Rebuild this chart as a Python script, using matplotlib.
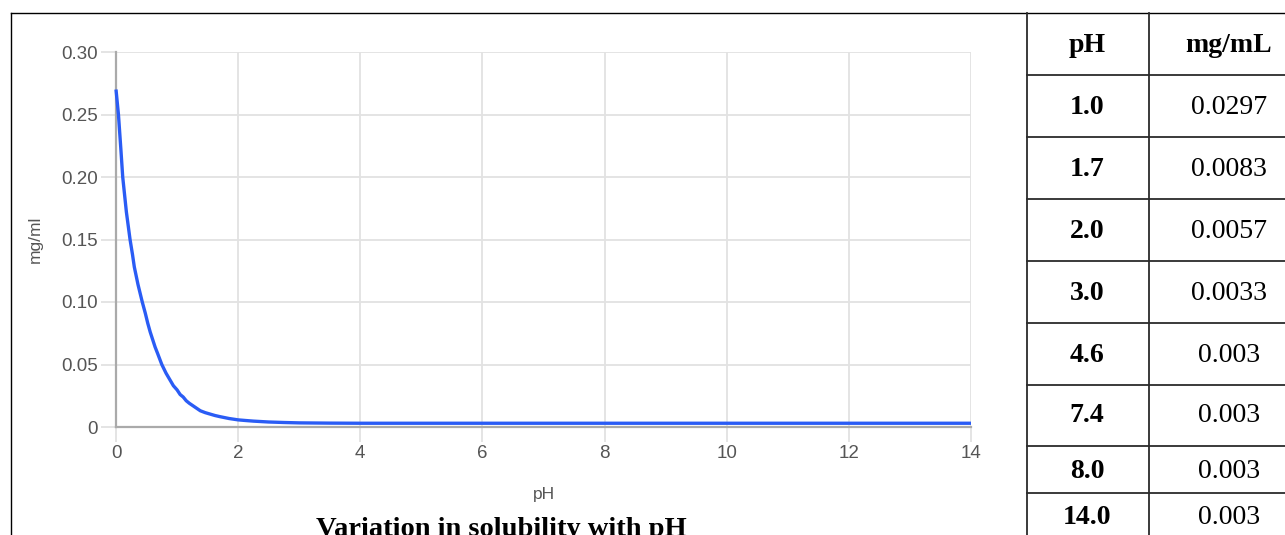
import matplotlib
matplotlib.use("Agg")
import matplotlib.pyplot as plt
from matplotlib.lines import Line2D

# ---- data ----
ph_curve = [0.0, 0.04, 0.08, 0.11, 0.14, 0.17, 0.20, 0.23, 0.27, 0.30, 0.36, 0.43, 0.48,
            0.52, 0.56, 0.60, 0.64, 0.68, 0.75, 0.82, 0.88, 0.94, 1.0, 1.05, 1.10, 1.15,
            1.20, 1.29, 1.38, 1.46, 1.55, 1.62, 1.7, 1.85, 2.0, 2.12, 2.25, 2.5, 2.75,
            3.0, 3.5, 4.0, 6.0, 8.0, 10.0, 12.0, 14.0]
sol_curve = [0.270, 0.250, 0.222, 0.200, 0.186, 0.172, 0.161, 0.150, 0.138, 0.128, 0.114,
             0.100, 0.091, 0.083, 0.076, 0.070, 0.064, 0.059, 0.050, 0.043, 0.038, 0.033,
             0.0297, 0.026, 0.024, 0.021, 0.019, 0.016, 0.013, 0.0115, 0.0102, 0.0092,
             0.0083, 0.0068, 0.0057, 0.0052, 0.0047, 0.0040, 0.0036, 0.0033, 0.0031,
             0.0030, 0.0030, 0.0030, 0.0030, 0.0030, 0.0030]
x_ticks = [0, 2, 4, 6, 8, 10, 12, 14]
y_ticks = [0, 0.05, 0.10, 0.15, 0.20, 0.25, 0.30]
y_tick_labels = ["0", "0.05", "0.10", "0.15", "0.20", "0.25", "0.30"]

table_header = ["pH", "mg/mL"]
table_ph = ["1.0", "1.7", "2.0", "3.0", "4.6", "7.4", "8.0", "14.0"]
table_sol = ["0.0297", "0.0083", "0.0057", "0.0033", "0.003", "0.003", "0.003", "0.003"]

title = "Variation in solubility with pH"
x_label = "pH"
y_label = "mg/ml"

# ---- figure ----
W, H = 1285, 535
fig = plt.figure(figsize=(W / 100, H / 100), dpi=100)
fig.patch.set_facecolor("white")

def fx(x):
    return x / W

def fy(y):
    return 1 - y / H

ax_l, ax_r, ax_t, ax_b = 116, 971, 52, 427
ax = fig.add_axes([fx(ax_l), fy(ax_b), fx(ax_r - ax_l), (ax_b - ax_t) / H])
ax.set_xlim(0, 14)
ax.set_ylim(0, 0.30)

grid_c = "#e2e2e2"
axis_c = "#aaaaaa"
text_c = "#555555"
sans = ["Liberation Sans", "DejaVu Sans"]

ax.plot(ph_curve, sol_curve, color="#2a5cf5", lw=2.4, solid_capstyle="butt",
        solid_joinstyle="round", zorder=5, clip_on=False)

ax.set_xticks(x_ticks)
ax.set_yticks(y_ticks)
ax.set_yticklabels(y_tick_labels)
ax.grid(True, color=grid_c, lw=1.3, zorder=0)
ax.set_axisbelow(True)
for s in ["top", "right"]:
    ax.spines[s].set_visible(False)
for s in ["left", "bottom"]:
    ax.spines[s].set_color(axis_c)
    ax.spines[s].set_linewidth(1.6)
    ax.spines[s].set_zorder(3)

ax.tick_params(axis="both", length=11, width=1.3, color=grid_c, labelcolor=text_c,
               labelsize=13.5, pad=2)
for lab in ax.get_xticklabels() + ax.get_yticklabels():
    lab.set_family(sans)
ax.xaxis.get_major_ticks()[0].tick1line.set_color(axis_c)
ax.yaxis.get_major_ticks()[0].tick1line.set_color(axis_c)

ax.set_xlabel(x_label, color=text_c, fontsize=12.5, family=sans)
ax.set_ylabel(y_label, color=text_c, fontsize=12.5, family=sans)
ax.xaxis.set_label_coords(0.5, (ax_b - 487) / (ax_b - ax_t))
ax.yaxis.set_label_coords((43 - ax_l) / (ax_r - ax_l), 0.5)

# title (cut off at the bottom in the reference)
fig.text(fx(501), fy(517), title, ha="center", va="top",
         family=["Liberation Serif", "DejaVu Serif"], fontweight="bold", fontsize=20.5)

# chart frame
frame_c = "#000000"
fig.add_artist(Line2D([fx(11), fx(11)], [fy(13), fy(540)], color=frame_c, lw=1.0,
                      transform=fig.transFigure))
fig.add_artist(Line2D([fx(11), fx(1290)], [fy(13), fy(13)], color=frame_c, lw=1.0,
                      transform=fig.transFigure))

# table
tab_c = "#2b2b2b"
col_x = [1027, 1149, 1311]
row_y = [13, 75, 137, 199, 261, 323, 385, 446, 493, 540]
for x in col_x:
    fig.add_artist(Line2D([fx(x), fx(x)], [fy(row_y[0]), fy(row_y[-1])], color=tab_c,
                          lw=1.3, transform=fig.transFigure))
for y in row_y[1:-1]:
    fig.add_artist(Line2D([fx(col_x[0]), fx(col_x[-1])], [fy(y), fy(y)], color=tab_c,
                          lw=1.3, transform=fig.transFigure))

serif = ["Liberation Serif", "DejaVu Serif"]
c1 = (col_x[0] + col_x[1]) / 2 - 1
c2 = 1229
fs = 20
fig.text(fx(c1), fy(45), table_header[0], ha="center", va="center", family=serif,
         fontweight="bold", fontsize=fs)
fig.text(fx(c2), fy(45), table_header[1], ha="center", va="center", family=serif,
         fontweight="bold", fontsize=fs)
row_centers = [107, 169, 231, 293, 355, 416, 471, 518]
for yc, p, s in zip(row_centers, table_ph, table_sol):
    fig.text(fx(c1), fy(yc), p, ha="center", va="center", family=serif,
             fontweight="bold", fontsize=fs)
    fig.text(fx(c2), fy(yc), s, ha="center", va="center", family=serif, fontsize=fs)

fig.savefig("out.png", dpi=100, facecolor="white")
